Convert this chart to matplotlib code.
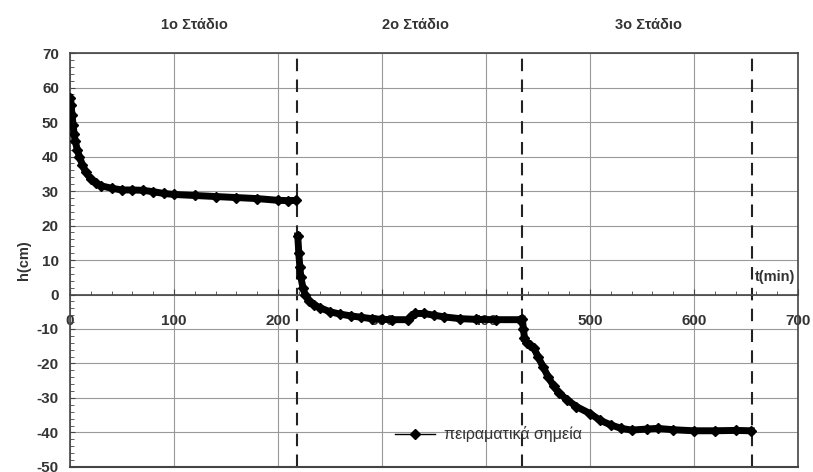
import matplotlib.pyplot as plt
from matplotlib.ticker import MultipleLocator

plt.rcParams['font.family'] = ['Liberation Sans', 'DejaVu Sans']
plt.rcParams['axes.unicode_minus'] = False

# --- DATA ---
t1 = [0, 1, 2, 3, 4, 5, 7, 9, 12, 15, 20, 25, 30, 40, 50, 60, 70, 80, 90, 100,
      120, 140, 160, 180, 200, 210, 217]
h1 = [57, 55, 52, 49, 46.5, 44.5, 42, 40, 37.5, 35.5, 33.5, 32.3, 31.5, 30.8, 30.3,
      30.3, 30.2, 29.8, 29.3, 29, 28.7, 28.4, 28.1, 27.8, 27.3, 27.2, 27.3]

t2 = [219, 220, 221, 222, 224, 226, 230, 235, 240, 250, 260, 270, 280, 290, 300,
      310, 325, 328, 332, 340, 350, 360, 375, 390, 410, 433]
h2 = [17, 12, 8, 5, 2, 0, -1.8, -3, -3.8, -5, -5.7, -6.2, -6.6, -7, -7.2,
      -7.3, -7.3, -6.3, -5.5, -5.5, -6, -6.5, -7, -7.2, -7.3, -7.3]

t3 = [435, 436, 437, 439, 442, 446, 450, 455, 460, 465, 470, 478, 487, 500, 510,
      520, 530, 540, 555, 565, 580, 600, 620, 640, 655]
h3 = [-7.2, -10, -12.5, -14, -14.5, -15.5, -18, -21, -24, -26.5, -28.5, -30.5, -32.5,
      -34.5, -36.5, -37.8, -38.8, -39.3, -39, -38.8, -39.2, -39.5, -39.5, -39.4, -39.5]

stage_bounds = [218, 435, 656]
stage_labels = ['1ο Στάδιο', '2ο Στάδιο', '3ο Στάδιο']
stage_label_x = [120, 332, 556]

fig = plt.figure(figsize=(8.13, 4.72), dpi=100)
ax = fig.add_axes([0.0861, 0.0106, 0.8954, 0.8771])

# thick line + diamonds to mimic the dense point cloud
ax.plot(t1, h1, color='black', lw=5, marker='D', ms=5, zorder=3,
        label='πειραματικά σημεία')
ax.plot(t2, h2, color='black', lw=5, marker='D', ms=5, zorder=3)
ax.plot(t3, h3, color='black', lw=5, marker='D', ms=5, zorder=3)

for xb in stage_bounds:
    ax.axvline(xb, color='#222222', lw=1.5, ls=(0, (6, 4)), zorder=2)

ax.set_xlim(0, 700)
ax.set_ylim(-50, 70)
ax.xaxis.set_major_locator(MultipleLocator(100))
ax.xaxis.set_minor_locator(MultipleLocator(20))
ax.yaxis.set_major_locator(MultipleLocator(10))
ax.yaxis.set_minor_locator(MultipleLocator(2))
ax.grid(True, which='major', color='#999999', lw=0.8)

ax.spines['bottom'].set_position(('data', 0))
for s in ax.spines.values():
    s.set_color('#444444')
    s.set_linewidth(1.2)
ax.axhline(-50, color='#444444', lw=1.5, clip_on=False)

ax.tick_params(axis='x', which='both', direction='in', pad=14, labelsize=11,
               colors='#444444', labelcolor='#333333')
ax.tick_params(axis='x', which='major', length=4)
ax.tick_params(axis='x', which='minor', length=3)
ax.tick_params(axis='y', which='both', direction='in', labelsize=11,
               colors='#444444', labelcolor='#333333', pad=8)
ax.tick_params(axis='y', which='minor', length=3)
for lab in ax.get_xticklabels() + ax.get_yticklabels():
    lab.set_fontweight('bold')

ax.set_ylabel('h(cm)', fontsize=10.5, fontweight='bold', color='#333333', labelpad=4)
ax.text(697, 3, 't(min)', ha='right', va='bottom', fontsize=10.5,
        fontweight='bold', color='#333333')

for lx, lab in zip(stage_label_x, stage_labels):
    ax.text(lx, 78, lab, ha='center', va='center', fontsize=10.5,
            fontweight='bold', color='#333333', clip_on=False)

leg = ax.legend(loc='lower center', bbox_to_anchor=(0.575, 0.025), frameon=False,
                fontsize=11.5, handlelength=2.5, handletextpad=0.6)
for line in leg.get_lines():
    line.set_linewidth(1.0)
for txt in leg.get_texts():
    txt.set_color('#333333')

fig.savefig('out.png', dpi=100)
